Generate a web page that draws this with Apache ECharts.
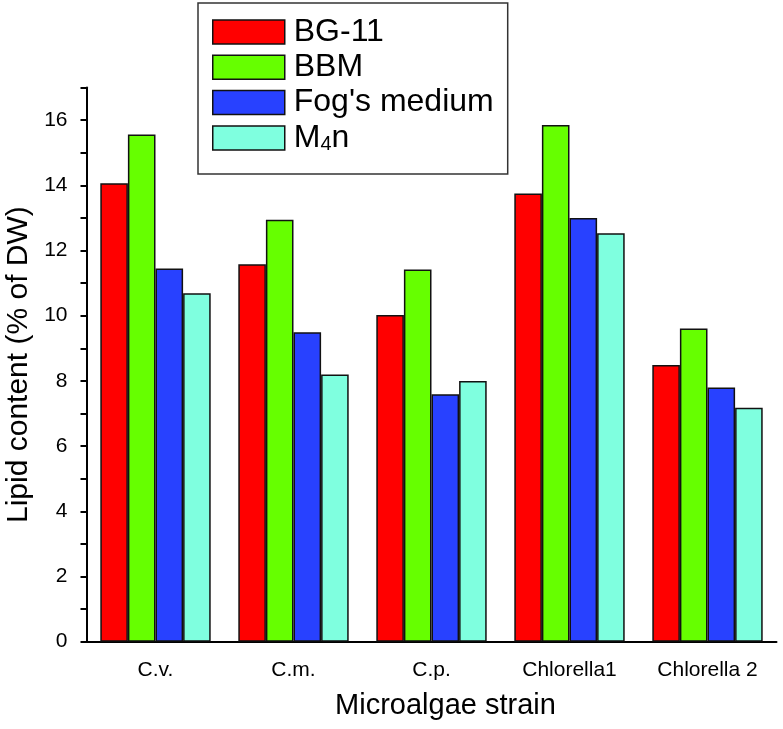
<!DOCTYPE html>
<html>
<head>
<meta charset="utf-8">
<script src="https://cdn.jsdelivr.net/npm/echarts@6/dist/echarts.min.js"></script>
<style>
	html, body { margin: 0; padding: 0; background: #fff; }
	#chart { width: 783px; height: 729px; }
</style>
</head>
<body>
<div id="chart"></div>
<script>
// strains on the x axis
const strains = ['C.v.', 'C.m.', 'C.p.', 'Chlorella1', 'Chlorella 2']
// lipid content (% of DW) per medium
const bg11 = [14.06, 11.58, 10.02, 13.75, 8.49]
const bbm = [15.56, 12.94, 11.42, 15.85, 9.61]
const fogs = [11.45, 9.49, 7.59, 13.0, 7.8]
const m4n = [10.69, 8.2, 8.0, 12.53, 7.18]
const mediumNames = ['BG-11', 'BBM', "Fog's medium", 'M4n']

const colors = ['#ff0000', '#66ff00', '#2841ff', '#7fffdf']
const font = 'Arial, "Liberation Sans", sans-serif'

const chart = echarts.init(document.getElementById('chart'))

const makeBar = (name, data, i) => ({
	name,
	type: 'bar',
	data,
	barGap: 0,
	barCategoryGap: '20%',
	itemStyle: {
		color: colors[i],
		borderColor: '#111',
		borderWidth: 1.5,
	},
})

const option = {
	backgroundColor: '#fff',
	animation: false,
	legend: {
		orient: 'vertical',
		left: 198,
		top: 3,
		padding: [13, 14, 19, 14],
		borderColor: '#333',
		borderWidth: 1.5,
		itemWidth: 72,
		itemHeight: 24,
		itemGap: 3.3,
		icon: 'rect',
		itemStyle: { borderColor: '#111', borderWidth: 1.5 },
		data: mediumNames,
		formatter: (n) => (n === 'M4n' ? 'M{sub|4}n' : n),
		textStyle: {
			fontFamily: font,
			fontSize: 32,
			color: '#000',
			padding: [0, 0, 0, 4],
			rich: {
				sub: { fontFamily: font, fontSize: 20, color: '#000', padding: [14, 0, 0, 0] },
			},
		},
	},
	grid: {
		left: 86.5,
		right: 6.5,
		top: 87.5,
		bottom: 87.3,
		containLabel: false,
		outerBoundsMode: 'none',
	},
	xAxis: [
		{
			type: 'category',
			data: strains,
			name: 'Microalgae strain',
			nameLocation: 'middle',
			nameGap: 50,
			nameTextStyle: { fontFamily: font, fontSize: 29, color: '#000', padding: [0, 0, 0, 28] },
			axisLine: { lineStyle: { color: '#000', width: 2 } },
			axisTick: { alignWithLabel: true, length: 11, lineStyle: { color: '#000', width: 2 } },
			axisLabel: { fontFamily: font, fontSize: 21, color: '#000', margin: 18 },
			splitLine: { show: false },
		},
		{
			type: 'category',
			data: strains,
			position: 'bottom',
			axisLine: { show: false },
			axisTick: { length: 6, lineStyle: { color: '#000', width: 2 } },
			axisLabel: { show: false },
			splitLine: { show: false },
		},
	],
	yAxis: {
		type: 'value',
		min: 0,
		max: 17,
		interval: 1,
		name: 'Lipid content (% of DW)',
		nameLocation: 'middle',
		nameGap: 41,
		nameTextStyle: { fontFamily: font, fontSize: 30, color: '#000' },
		axisLine: { show: true, lineStyle: { color: '#000', width: 2 } },
		axisTick: { show: true, length: 6, lineStyle: { color: '#000', width: 2 } },
		axisLabel: {
			fontFamily: font,
			fontSize: 21,
			color: '#000',
			margin: 19,
			formatter: (v) => (v % 2 === 0 ? String(v) : ''),
		},
		splitLine: { show: false },
	},
	series: [
		makeBar(mediumNames[0], bg11, 0),
		makeBar(mediumNames[1], bbm, 1),
		makeBar(mediumNames[2], fogs, 2),
		makeBar(mediumNames[3], m4n, 3),
	],
}

chart.setOption(option)
</script>
</body>
</html>
